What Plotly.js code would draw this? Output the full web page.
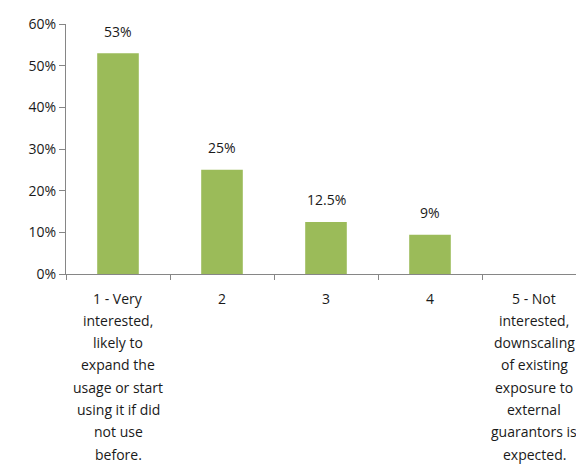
<!DOCTYPE html>
<html>
<head>
<meta charset="utf-8">
<script src="https://cdn.plot.ly/plotly-3.0.1.min.js"></script>
<style>html,body{margin:0;padding:0;background:#fff;}#chart{width:576px;height:465px;}</style>
</head>
<body>
<div id="chart"></div>
<script>
// Data
var categories = ['1', '2', '3', '4', '5'];
var categoryLabels = [
  ['1 - Very', 'interested,', 'likely to', 'expand the', 'usage or start', 'using it if did', 'not use', 'before.'],
  ['2'],
  ['3'],
  ['4'],
  ['5 - Not', 'interested,', 'downscaling', 'of existing', 'exposure to', 'external', 'guarantors is', 'expected.']
];
var values = [53, 25, 12.5, 9.4, 0];
var valueLabels = ['53%', '25%', '12.5%', '9%', ''];
var yTicks = [0, 10, 20, 30, 40, 50, 60];

var FONT = 'Open Sans, Lato, sans-serif';
var TEXTCOL = '#1a1a1a';
var AXCOL = '#868686';

var annotations = [];
categories.forEach(function (c, i) {
  if (valueLabels[i]) {
    annotations.push({
      x: i, y: values[i], xref: 'x', yref: 'y',
      text: valueLabels[i], showarrow: false, yshift: 22,
      font: {family: FONT, size: 14, color: TEXTCOL}
    });
  }
  categoryLabels[i].forEach(function (line, j) {
    annotations.push({
      x: i, y: 0, xref: 'x', yref: 'y',
      text: line, showarrow: false, yshift: -24 - j * 22.3,
      font: {family: FONT, size: 14, color: TEXTCOL}
    });
  });
});

var trace = {
  type: 'bar',
  x: categories,
  y: values,
  width: 0.4,
  marker: {color: '#9BBB59'},
  hoverinfo: 'none'
};

var layout = {
  width: 576, height: 465,
  margin: {l: 66, r: 0, t: 24, b: 191, pad: 0},
  paper_bgcolor: '#fff', plot_bgcolor: '#fff',
  showlegend: false,
  font: {family: FONT, size: 14, color: TEXTCOL},
  xaxis: {
    type: 'category',
    range: [-0.5, 4.4038],
    tickson: 'boundaries',
    ticks: 'outside', ticklen: 5, tickcolor: AXCOL, tickwidth: 1,
    showticklabels: false,
    showline: true, linecolor: AXCOL, linewidth: 1,
    showgrid: false, zeroline: false, fixedrange: true
  },
  yaxis: {
    range: [0, 60],
    tickvals: yTicks,
    ticktext: yTicks.map(function (v) { return v + '%'; }),
    ticks: 'outside', ticklen: 6, tickcolor: AXCOL, tickwidth: 1,
    tickfont: {family: FONT, size: 14, color: TEXTCOL},
    showline: true, linecolor: AXCOL, linewidth: 1,
    showgrid: false, zeroline: false, fixedrange: true
  },
  annotations: annotations
};

Plotly.newPlot('chart', [trace], layout, {staticPlot: true, displayModeBar: false});
</script>
</body>
</html>
